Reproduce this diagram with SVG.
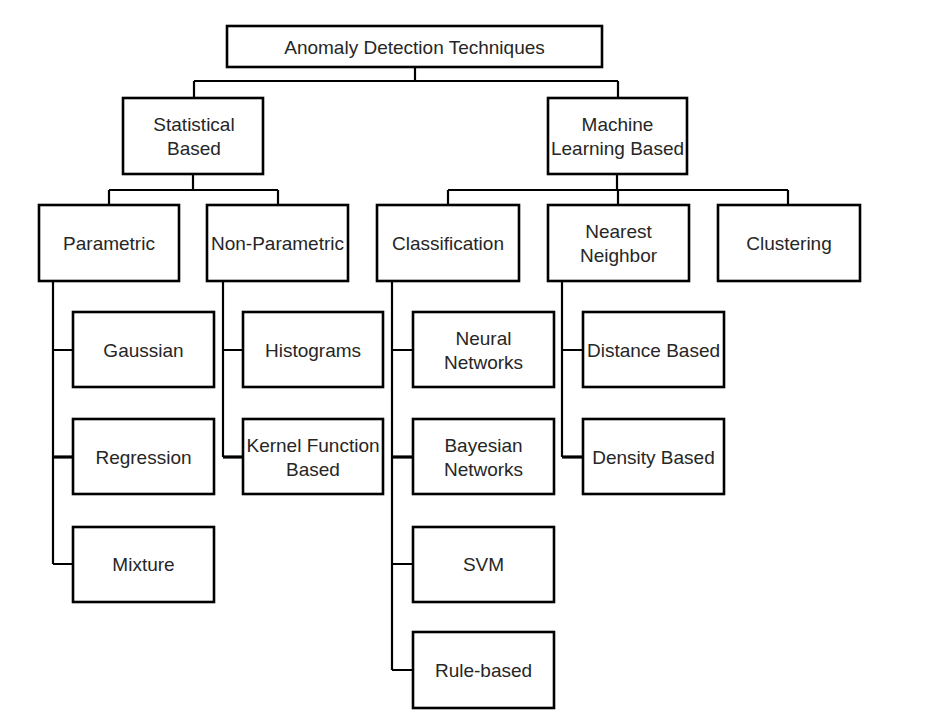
<svg xmlns="http://www.w3.org/2000/svg" width="941" height="725" viewBox="0 0 941 725">
<style>
.box{fill:#fff;stroke:#000;stroke-width:2.6}
.c{fill:none;stroke:#000;stroke-width:2.2}
.t{stroke-width:3.2}
text{font-family:"Liberation Sans",Arial,sans-serif;font-size:19px;fill:#262626;text-anchor:middle}
</style>
<rect width="941" height="725" fill="#fff"/>
<g id="connectors">
<path class="c" d="M415,67V81M194,81H618M194,81V98M618,81V98"/>
<path class="c" d="M193,174V190M109,190H278M109,190V205M278,190V205"/>
<path class="c" d="M617,174V190M448,190H788M448,190V205M618,190V205M788,190V205"/>
<path class="c" d="M53,281V564M53,350H73M53,564H73"/>
<path class="c t" d="M53,457H73"/>
<path class="c" d="M223,281V457M223,350H243"/>
<path class="c t" d="M223,457H243"/>
<path class="c" d="M392,281V670M392,350H413M392,564H413M392,670H413"/>
<path class="c t" d="M392,457H413"/>
<path class="c" d="M562,281V457M562,350H583"/>
<path class="c t" d="M562,457H583"/>
</g>
<g id="root"><rect class="box" x="227" y="26" width="375" height="41"/><text x="414.5" y="54">Anomaly Detection Techniques</text></g>
<g id="statistical"><rect class="box" x="123" y="98" width="140" height="76"/><text x="194" y="131">Statistical</text><text x="194" y="155">Based</text></g>
<g id="ml"><rect class="box" x="548" y="98" width="139" height="76"/><text x="617.5" y="131">Machine</text><text x="617.5" y="155">Learning Based</text></g>
<g id="parametric"><rect class="box" x="39" y="205" width="140" height="76"/><text x="109" y="250">Parametric</text></g>
<g id="nonparametric"><rect class="box" x="207" y="205" width="141" height="76"/><text x="277.5" y="250">Non-Parametric</text></g>
<g id="classification"><rect class="box" x="377" y="205" width="142" height="76"/><text x="448" y="250">Classification</text></g>
<g id="nearest"><rect class="box" x="548" y="205" width="141" height="76"/><text x="618.5" y="238">Nearest</text><text x="618.5" y="262">Neighbor</text></g>
<g id="clustering"><rect class="box" x="718" y="205" width="142" height="76"/><text x="789" y="250">Clustering</text></g>
<g id="gaussian"><rect class="box" x="73" y="312" width="141" height="75"/><text x="143.5" y="357">Gaussian</text></g>
<g id="regression"><rect class="box" x="73" y="419" width="141" height="75"/><text x="143.5" y="464">Regression</text></g>
<g id="mixture"><rect class="box" x="73" y="527" width="141" height="75"/><text x="143.5" y="571">Mixture</text></g>
<g id="histograms"><rect class="box" x="243" y="312" width="140" height="75"/><text x="313" y="357">Histograms</text></g>
<g id="kernel"><rect class="box" x="243" y="419" width="140" height="75"/><text x="313" y="452">Kernel Function</text><text x="313" y="476">Based</text></g>
<g id="neural"><rect class="box" x="413" y="312" width="141" height="75"/><text x="483.5" y="345">Neural</text><text x="483.5" y="369">Networks</text></g>
<g id="bayesian"><rect class="box" x="413" y="419" width="141" height="75"/><text x="483.5" y="452">Bayesian</text><text x="483.5" y="476">Networks</text></g>
<g id="svm"><rect class="box" x="413" y="527" width="141" height="75"/><text x="483.5" y="571">SVM</text></g>
<g id="rulebased"><rect class="box" x="413" y="632" width="141" height="76"/><text x="483.5" y="677">Rule-based</text></g>
<g id="distance"><rect class="box" x="583" y="312" width="141" height="75"/><text x="653.5" y="357">Distance Based</text></g>
<g id="density"><rect class="box" x="583" y="419" width="141" height="75"/><text x="653.5" y="464">Density Based</text></g>
</svg>
